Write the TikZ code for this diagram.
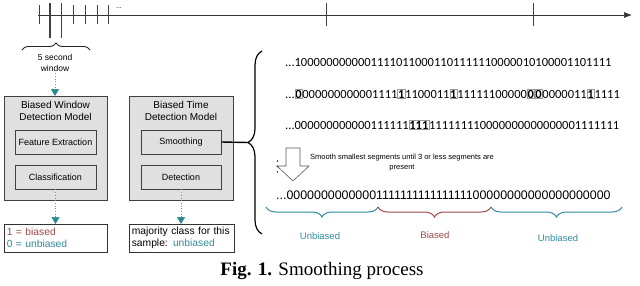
\documentclass[tikz,border=0pt]{standalone}
\usepackage{fontspec}
\setmainfont{Liberation Serif}
\newfontfamily\arialf{Liberation Sans}
\newfontfamily\calf{Carlito}
\usetikzlibrary{arrows.meta,decorations.pathreplacing,calc}
\definecolor{tealc}{RGB}{38,138,140}
\definecolor{tealt}{RGB}{48,140,158}
\definecolor{redt}{RGB}{160,72,72}
\newcommand\fsz[2]{\fontsize{#1}{#2}\selectfont}
\newcommand\hb[1]{{\setlength\fboxsep{0.2pt}\setlength\fboxrule{0.5pt}\fcolorbox{black!40}{white}{\bfseries #1}}}
\tikzset{
  tick/.style={draw=black!75, line width=0.8pt},
  outerbox/.style={draw=black!75, fill=black!12, line width=1.1pt, anchor=north west, inner sep=0pt, minimum width=103pt, minimum height=104pt},
  innerbox/.style={draw=black!75, fill=black!12, line width=0.9pt, minimum width=81pt, minimum height=24pt, inner sep=0pt, font=\arialf\fsz{9}{10}},
  titletext/.style={font=\arialf\fsz{10}{12.5}, align=center, inner sep=0pt},
  resbox/.style={draw=black!80, fill=white, line width=0.6pt, anchor=north west, minimum height=28pt, inner sep=1.5pt, align=left, font=\arialf\fsz{10.3}{12}},
  dotarrow/.style={draw=black!45, dotted, line width=0.7pt, -{Triangle[color=tealc, length=7pt, width=8pt]}},
  bitrow/.style={anchor=west, inner sep=0pt, font=\calf\fsz{12.5}{14}},
  lbl/.style={font=\arialf\fsz{9.5}{11}, inner sep=0pt},
}
\begin{document}
\begin{tikzpicture}[x=1pt,y=-1pt]
\useasboundingbox (0,0) rectangle (640,285);
% timeline
\coordinate (t0) at (38,15);
\coordinate (t1) at (632,15);
\draw[black!80, line width=0.7pt, -{Latex[length=8pt,width=6pt]}] (t0) -- (t1);
\foreach \x in {39,73,85,97} \draw[tick] (\x,5) -- (\x,24);
\draw[tick, line width=1.6pt] (50,3) -- (50,38);
\draw[tick] (61.5,3) -- (61.5,38);
\draw[tick, line width=1.2pt] (108.5,5) -- (108.5,24);
\foreach \x in {326,533} \draw[tick] (\x,3) -- (\x,26);
\node[font=\arialf\fsz{7}{8}, inner sep=0pt] (dots) at (119,8) {...};
% window brace
\coordinate (wb0) at (22,50);
\coordinate (wb1) at (90,50);
\draw[black!85, line width=0.9pt, decorate, decoration={brace, amplitude=7pt}] (wb0) -- (wb1);
\node[font=\arialf\fsz{8.5}{11}, align=center, inner sep=0pt] (win) at (55,62.5) {5 second\\window};
% boxes
\node[outerbox] (bw) at (4,96) {};
\node[titletext] (bwt) at (55.5,111) {Biased Window\\Detection Model};
\node[innerbox] (fe) at (55.5,142) {Feature Extraction};
\node[innerbox] (cl) at (55.5,177) {Classification};
\node[outerbox, minimum width=104pt] (bt) at (129,96) {};
\node[titletext] (btt) at (181,111) {Biased Time\\Detection Model};
\node[innerbox, minimum width=80pt] (sm) at (181,142) {Smoothing};
\node[innerbox, minimum width=80pt] (de) at (181,177) {Detection};
\draw[dotarrow] (win.south) ++(0,2) coordinate (wa) -- (bw.north -| win.south);
\node[resbox, minimum width=103pt, text width=98pt] (r1) at (4,224) {\textcolor{redt}{1 = biased}\\\textcolor{tealt}{0 = unbiased}};
\node[resbox, minimum width=105pt, text width=100pt] (r2) at (129,224) {majority class for this\\sample: \textcolor{tealt}{unbiased}};
\draw[dotarrow] (cl.south) -- (cl.south |- r1.north);
\draw[dotarrow] (de.south) -- (de.south |- r2.north);
% big brace
\coordinate (bb0) at (262,234);
\coordinate (bb1) at (262,51);
\draw[black, line width=1.2pt, decorate, decoration={brace, amplitude=14pt}] (bb0) -- (bb1);
\coordinate (btip) at (248,142.5);
\draw[black, line width=1.4pt] (sm.east) -- (btip);
% bit rows
\node[bitrow] (row1) at (285,62) {...10000000000011110110001101111110000010100001101111};
\node[bitrow] (row2) at (285,94) {...\hb{0}000000000001111\hb{1}1100011\hb{1}11111100000\hb{0}\hb{0}0000011\hb{1}1111};
\node[bitrow] (row3) at (285,125) {...000000000000111111\hb{111}111111110000000000000001111111};
% smoothing arrow
\draw[black!65, line width=0.6pt, fill=white] (286,148) -- (300,148) -- (300,166) -- (309,166) -- (293,181) -- (277,166) -- (286,166) -- cycle;
\foreach \y in {161,166.5,172} \fill[black!80] (277.5,\y) circle (0.9pt);
\node[font=\arialf\fsz{7.5}{10.5}, align=center, inner sep=0pt] (smt) at (402,162.5) {Smooth smallest segments until 3 or less segments are\\present};
\node[anchor=west, inner sep=0pt, font=\arialf\fsz{12.4}{14}] (row4) at (276,195) {...0000000000000111111111111111100000000000000000000};
% segment braces
\coordinate (s0) at (266,207);
\coordinate (s1) at (378,207);
\coordinate (s2) at (491,207);
\coordinate (s3) at (622,207);
\draw[tealt, line width=1pt, decorate, decoration={brace, amplitude=10pt, mirror}] (s0) -- (s1);
\draw[redt, line width=1pt, decorate, decoration={brace, amplitude=10pt, mirror}] (s1) -- (s2);
\draw[tealt, line width=1pt, decorate, decoration={brace, amplitude=10pt, mirror}] (s2) -- (s3);
\node[lbl, text=tealt] (u1) at (320,236) {Unbiased};
\node[lbl, text=redt] (b1) at (435,235) {Biased};
\node[lbl, text=tealt] (u2) at (558,238) {Unbiased};
% caption
\node[font=\fsz{19}{22}, inner sep=0pt] (cap) at (322,271) {\textbf{Fig. 1.} Smoothing process};
\end{tikzpicture}
\end{document}
